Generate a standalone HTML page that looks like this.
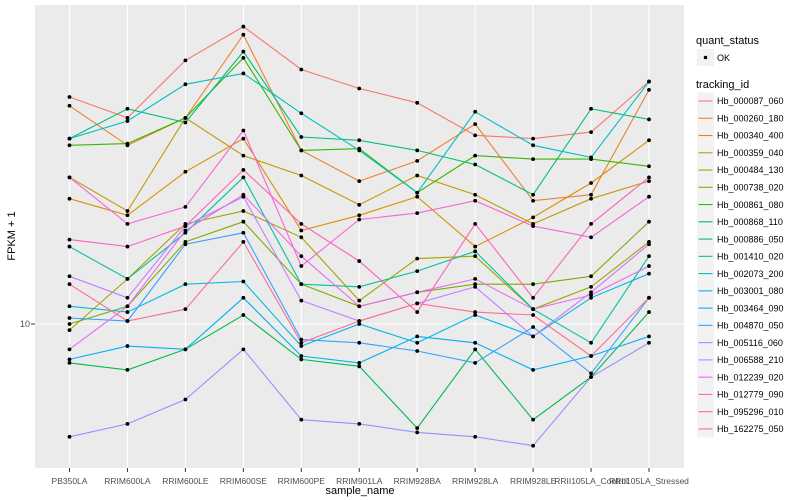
<!DOCTYPE html>
<html><head><meta charset="utf-8"><style>
body{margin:0;background:#fff;}
svg{display:block;font-family:"Liberation Sans",sans-serif;}
</style></head><body>
<svg id="chart" width="800" height="500" xmlns="http://www.w3.org/2000/svg">
<rect x="35" y="5" width="649" height="463" fill="#EBEBEB"/>
<g id="grid"></g><g id="lines"></g><g id="pts"></g><g id="xlabels"></g>
<text x="30" y="327" text-anchor="end" font-size="9" fill="#4D4D4D">10</text>
<line x1="31" y1="324" x2="35" y2="324" stroke="#333" stroke-width="1"/>
<text x="360" y="494" text-anchor="middle" font-size="11" fill="#000">sample_name</text>
<text x="15" y="236" text-anchor="middle" font-size="11" fill="#000" transform="rotate(-90 15 236)">FPKM + 1</text>
<g>
<text x="696" y="44" font-size="11">quant_status</text>
<rect x="697" y="49" width="17" height="17" fill="#F2F2F2"/>
<circle cx="705.5" cy="57.5" r="1.8" fill="#000"/>
<text x="717" y="61" font-size="9">OK</text>
<text x="696" y="88" font-size="11">tracking_id</text>
<g id="legend-items"></g>
</g>
</svg>
<script>
const categories = ["PB350LA","RRIM600LA","RRIM600LE","RRIM600SE","RRIM600PE","RRIM901LA","RRIM928BA","RRIM928LA","RRIM928LE","RRII105LA_Control","RRII105LA_Stressed"];
const seriesNames = ["Hb_000087_060","Hb_000260_180","Hb_000340_400","Hb_000359_040","Hb_000484_130","Hb_000738_020","Hb_000861_080","Hb_000868_110","Hb_000886_050","Hb_001410_020","Hb_002073_200","Hb_003001_080","Hb_003464_090","Hb_004870_050","Hb_005116_060","Hb_006588_210","Hb_012239_020","Hb_012779_090","Hb_095296_010","Hb_162275_050"];
const seriesColors = ["#F8766D","#EA8331","#D89000","#C09B00","#A3A500","#7CAE00","#39B600","#00BB4E","#00BF7D","#00C1A3","#00BFC4","#00BAE0","#00B0F6","#35A2FF","#9590FF","#C77CFF","#E76BF3","#FA62DB","#FF62BC","#FF6C91"];
const s000087 = [21.1,19.7,23.8,26.6,23.1,21.7,20.7,18.6,18.4,18.8,22.2];
const s000260 = [20.5,18.0,19.7,25.9,17.7,16.0,17.1,19.3,15.0,15.3,21.6];
const s000340 = [15.1,14.3,16.5,18.4,13.6,14.3,15.2,12.9,14.2,15.9,18.3];
const s000359 = [16.2,14.5,19.7,17.4,16.3,14.8,16.3,15.3,13.9,15.1,16.0];
const s000484 = [9.8,11.6,13.9,14.5,13.3,10.8,12.4,12.5,10.5,11.3,13.1];
const s000738 = [10.0,10.6,13.1,14.0,11.4,10.6,11.1,11.4,11.4,11.7,14.0];
const s000861 = [18.0,18.1,19.7,24.0,17.7,17.8,15.4,17.4,17.2,17.2,16.8];
const s000868 = [8.8,8.6,9.2,10.3,8.9,8.7,7.1,9.2,7.3,8.4,10.4];
const s000886 = [18.4,20.3,19.4,24.5,18.5,18.3,17.7,16.9,15.3,20.3,19.6];
const s001410 = [12.9,11.6,13.5,16.2,11.4,11.3,11.9,12.7,10.5,9.4,12.5];
const s002073 = [18.4,19.5,22.0,22.8,20.0,17.7,15.4,20.1,18.0,17.3,22.2];
const s003001 = [10.6,10.4,11.4,11.5,9.3,10.0,9.4,10.3,9.6,10.9,11.8];
const s003464 = [8.9,9.3,9.2,10.9,9.0,8.8,9.6,9.4,8.6,9.0,9.6];
const s004870 = [10.2,10.1,13.0,13.5,9.5,9.4,9.15,8.8,9.9,8.5,10.9];
const s005116 = [6.9,7.2,7.8,9.2,7.3,7.2,7.0,6.9,6.7,8.4,9.4];
const s006588 = [11.7,10.9,13.8,15.2,10.8,10.1,10.7,11.3,9.6,11.1,13.0];
const s012239 = [9.2,10.6,13.6,15.3,12.5,10.6,11.1,11.6,10.5,11.0,12.1];
const s012779 = [16.2,13.9,14.7,18.9,12.1,14.1,14.4,15.0,13.8,13.3,15.2];
const s095296 = [13.2,12.9,13.8,16.6,13.9,12.3,10.4,13.9,10.9,13.9,16.2];
const s162275 = [11.4,10.1,10.5,13.1,9.4,10.1,10.7,10.4,10.3,9.0,10.9];
const seriesValues = [s000087,s000260,s000340,s000359,s000484,s000738,s000861,s000868,s000886,s001410,s002073,s003001,s003464,s004870,s005116,s006588,s012239,s012779,s095296,s162275];

const NS = "http://www.w3.org/2000/svg";
const x0 = 69.5, xStep = 57.95;
function xScale(i){ return x0 + i*xStep; }
function yScale(v){ return 324 - 700*Math.log10(v/10); }
function mk(tag, attrs, parent){ const e=document.createElementNS(NS,tag); for(const k in attrs) e.setAttribute(k,attrs[k]); parent.appendChild(e); return e; }

const grid=document.getElementById('grid');
categories.forEach((c,i)=>{
  const l=mk('line',{x1:xScale(i),x2:xScale(i),y1:5,y2:468,stroke:'#fff','stroke-width':1.1},grid);
  
  
  const t=mk('line',{x1:xScale(i),x2:xScale(i),y1:468,y2:472,stroke:'#333','stroke-width':1},grid);
  
  
});
const hg=mk('line',{x1:35,x2:684,y1:yScale(10),y2:yScale(10),stroke:'#fff','stroke-width':1.1},grid);



const xl=document.getElementById('xlabels');
categories.forEach((c,i)=>{
  const t=mk('text',{x:xScale(i),y:484,'text-anchor':'middle','font-size':8.5,fill:'#4D4D4D'},xl);
  t.textContent=c;
  
  
});

const lg=document.getElementById('lines'), pg=document.getElementById('pts');
seriesValues.forEach((vals,s)=>{
  const d=vals.map((v,i)=>(i?'L':'M')+xScale(i).toFixed(1)+' '+yScale(v).toFixed(1)).join(' ');
  const p=mk('path',{d:d,fill:'none',stroke:seriesColors[s],'stroke-width':1.1},lg);
  
  
  vals.forEach((v,i)=>{
    const c=mk('circle',{cx:xScale(i),cy:yScale(v),r:1.9,fill:'#000'},pg);
    
    
  });
});

const li=document.getElementById('legend-items');
seriesNames.forEach((n,s)=>{
  const cy=101+s*17.26;
  const r=mk('rect',{x:697,y:cy-8.5,width:17,height:17,fill:'#F2F2F2'},li);
  
  
  const l=mk('line',{x1:698.5,x2:712.5,y1:cy,y2:cy,stroke:seriesColors[s],'stroke-width':1.1},li);
  
  
  const t=mk('text',{x:717,y:cy+3.2,'font-size':9,fill:'#000'},li);
  t.textContent=n;
  
  
});
</script>
</body></html>
